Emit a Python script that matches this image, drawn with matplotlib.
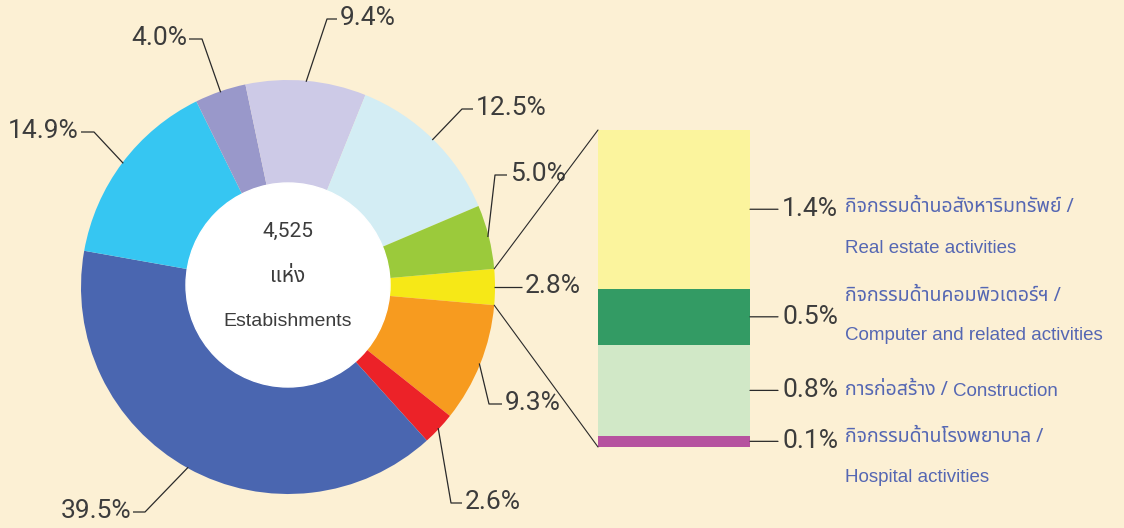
import numpy as np
import matplotlib
matplotlib.use('Agg')
import matplotlib.pyplot as plt
from matplotlib import font_manager
from matplotlib.ft2font import FT2Font
from matplotlib.patches import ConnectionPatch

W, H = 1124, 528

# donut slices, clockwise starting from the small slice that gets broken out
pie_labels = ['2.8%', '9.3%', '2.6%', '39.5%', '14.9%', '4.0%', '9.4%', '12.5%', '5.0%']
pie_values = [2.8, 9.3, 2.6, 39.5, 14.9, 4.0, 9.4, 12.5, 5.0]
pie_colors = ['#f6e817', '#f79b1f', '#ec2228', '#4a66b0', '#36c6f2',
              '#9998ca', '#cdcae7', '#d3edf4', '#9bca3b']

# breakdown of the 2.8% slice, bottom to top
bar_labels = ['0.1%', '0.8%', '0.5%', '1.4%']
bar_values = [0.1, 0.8, 0.5, 1.4]
bar_colors = ['#b6529f', '#d1e8c7', '#339b64', '#fbf49d']
bar_thai = ['กิจกรรมด้านโรงพยาบาล /', 'การก่อสร้าง /',
            'กิจกรรมด้านคอมพิวเตอร์ฯ /', 'กิจกรรมด้านอสังหาริมทรัพย์ /']
bar_eng = ['Hospital activities', 'Construction', 'Computer and related activities',
           'Real estate activities']

center_lines = ['4,525', 'แห่ง', 'Estabishments']

# layout (image pixels, y down)
pie_cx, pie_cy, pie_r, hole_r = 288, 287, 207, 102
label_elbow = [(496, 287), (489, 404), (451, 503), (145, 512), (94, 132),
               (202, 39), (327, 19), (462, 109), (495, 175)]
label_end = [(522, 287), (502, 404), (462, 503), (133, 512), (81, 132),
             (189, 39), (337, 19), (473, 109), (507, 175)]
bar_box = (598, 130, 750, 447)  # left, top, right, bottom
thai_dy = [-4, 0, -21, -2]
eng_off = [(95, 36), (203, 1), (95, 19), (95, 39)]


def find_thai_font():
    # regular-weight fonts with Thai glyphs, loopless Noto first
    found = []
    for f in font_manager.fontManager.ttflist:
        try:
            if 0x0E01 not in FT2Font(f.fname).get_charmap():
                continue
        except Exception:
            continue
        w = f.weight if isinstance(f.weight, int) else 400
        score = abs(w - 400) + (0 if f.style == 'normal' else 500)
        if 'Noto Sans Thai' in f.name and 'Looped' not in f.name:
            score -= 50
        found.append((score, f.name))
    found.sort()
    return found[0][1] if found else None


thai = find_thai_font()
thai_family = [thai, 'DejaVu Sans'] if thai else ['DejaVu Sans']
num_family = ['Roboto', 'DejaVu Sans']
eng_family = ['Liberation Sans', 'DejaVu Sans']

dark = '#3c3c3c'
blue_text = '#5567b3'

fig = plt.figure(figsize=(W / 100, H / 100), dpi=100)
fig.patch.set_facecolor('#fcf0d4')

ax = fig.add_axes([0, 0, 1, 1])
wedges, _ = ax.pie(pie_values, colors=pie_colors, radius=pie_r,
                   center=(pie_cx, H - pie_cy), startangle=pie_values[0] / 2 * 3.6,
                   counterclock=False,
                   wedgeprops=dict(width=pie_r - hole_r + 3, linewidth=0))
ax.set_xlim(0, W)
ax.set_ylim(0, H)
ax.set_aspect('auto')
ax.axis('off')

# white hole with the total
ax.add_patch(plt.Circle((pie_cx, H - pie_cy + 2), hole_r, color='white', zorder=3))
ax.text(pie_cx, H - 231, center_lines[0], ha='center', va='center', fontsize=15,
        family=num_family, color=dark, zorder=4)
ax.text(pie_cx, H - 277, center_lines[1], ha='center', va='center', fontsize=15,
        family=thai_family, color=dark, zorder=4)
ax.text(pie_cx, H - 322, center_lines[2], ha='center', va='center', fontsize=14,
        family=eng_family, color=dark, zorder=4)

# leader lines and percentages
for w, lab, el, en in zip(wedges, pie_labels, label_elbow, label_end):
    mid = np.radians((w.theta1 + w.theta2) / 2)
    ax_x = pie_cx + (pie_r - 1) * np.cos(mid)
    ax_y = H - pie_cy + (pie_r - 1) * np.sin(mid)
    ax.plot([ax_x, el[0], en[0]], [ax_y, H - el[1], H - en[1]],
            color='#2a2a2a', lw=0.9, solid_capstyle='butt')
    left = en[0] >= el[0]
    ax.text(en[0] + (3 if left else -2), H - en[1] + 1, lab,
            ha='left' if left else 'right', va='center', fontsize=19,
            family=num_family, color=dark)

# stacked bar for the broken-out slice
l, t, r, b = bar_box
bax = fig.add_axes([l / W, (H - b) / H, (r - l) / W, (b - t) / H])
bottoms = np.concatenate([[0], np.cumsum(bar_values)[:-1]])
bax.bar(0, bar_values, bottom=bottoms, width=1, color=bar_colors, linewidth=0)
bax.set_xlim(-0.5, 0.5)
bax.set_ylim(0, sum(bar_values))
bax.axis('off')

a_top = np.radians(wedges[0].theta2)
a_bot = np.radians(wedges[0].theta1)
for ang, yb in [(a_top, sum(bar_values)), (a_bot, 0)]:
    p = (pie_cx + pie_r * np.cos(ang), H - pie_cy + pie_r * np.sin(ang))
    con = ConnectionPatch(xyA=p, coordsA=ax.transData, xyB=(-0.5, yb),
                          coordsB=bax.transData, color='#2a2a2a', lw=0.8)
    fig.add_artist(con)

for lab, v, b0, th, en, dy, eo in zip(bar_labels, bar_values, bottoms, bar_thai,
                                      bar_eng, thai_dy, eng_off):
    mid = b0 + v / 2
    bax.annotate('', xy=(0.5, mid), xytext=(28, 0), textcoords='offset pixels',
                 arrowprops=dict(arrowstyle='-', color='#2a2a2a', lw=0.9,
                                 shrinkA=0, shrinkB=0), annotation_clip=False)
    bax.annotate(lab, xy=(0.5, mid), xytext=(32, 0), textcoords='offset pixels',
                 ha='left', va='center', fontsize=19, family=num_family,
                 color=dark, annotation_clip=False)
    bax.annotate(th, xy=(0.5, mid), xytext=(95, -dy), textcoords='offset pixels',
                 ha='left', va='center', fontsize=14, family=thai_family,
                 color=blue_text, annotation_clip=False)
    bax.annotate(en, xy=(0.5, mid), xytext=(eo[0], -eo[1]), textcoords='offset pixels',
                 ha='left', va='center', fontsize=13.5, family=eng_family,
                 color=blue_text, annotation_clip=False)

fig.savefig('out.png', dpi=100, facecolor=fig.get_facecolor())
